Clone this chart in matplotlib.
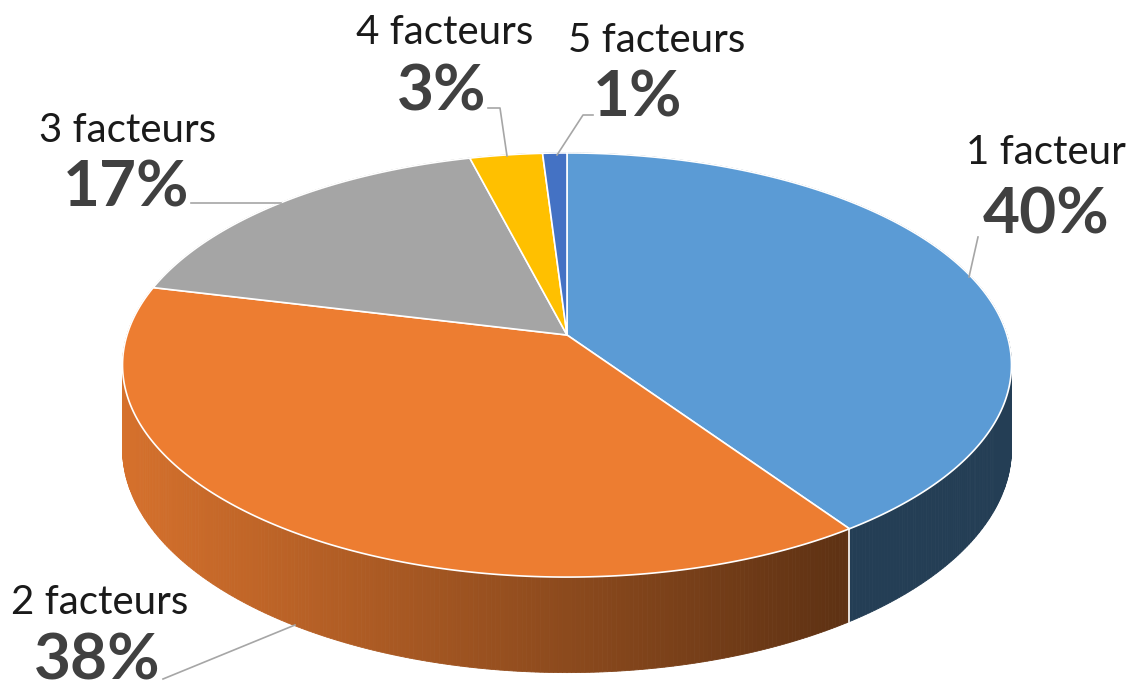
import numpy as np
import matplotlib
matplotlib.use("Agg")
import matplotlib.pyplot as plt
from matplotlib.patches import Polygon

# ---- data ----
categories = ["1 facteur", "2 facteurs", "3 facteurs", "4 facteurs", "5 facteurs"]
values = [40, 38, 17, 3, 1]
colors = ["#5B9BD5", "#ED7D31", "#A5A5A5", "#FFC000", "#4472C4"]

# ---- geometry (pixel space) ----
W, Hpx = 1131, 681
cx, cy = 567, 335
R, S, K, DEPTH = 440, 207.8, 0.1416, 82


def proj(X, Y, Z=0.0):
    w = 1 + K * Y
    return cx + R * X / w, cy - (S * Y + DEPTH * Z) / w


fig = plt.figure(figsize=(W / 100, Hpx / 100), dpi=100)
ax = fig.add_axes([0, 0, 1, 1])
ax.set_xlim(0, W)
ax.set_ylim(Hpx, 0)
ax.axis("off")

total = float(sum(values))
bounds = []
a = 90.0
for v in values:
    b = a - 360.0 * v / total
    bounds.append((a, b))
    a = b


def shade(hexcol, x):
    rgb = np.array(matplotlib.colors.to_rgb(hexcol))
    f = 0.9 - 0.5 * (x - 126) / (840 - 126)
    f = min(0.9, max(0.4, f))
    return tuple(rgb * f)


# side walls
quads = []
for (a0, a1), col in zip(bounds, colors):
    n = max(2, int(abs(a0 - a1) / 0.5))
    ts = np.radians(np.linspace(a0, a1, n + 1))
    for t0, t1 in zip(ts[:-1], ts[1:]):
        X0, Y0 = np.cos(t0), np.sin(t0)
        X1, Y1 = np.cos(t1), np.sin(t1)
        pts = [proj(X0, Y0, 0), proj(X1, Y1, 0), proj(X1, Y1, -1), proj(X0, Y0, -1)]
        xm = np.mean([p[0] for p in pts])
        quads.append(((Y0 + Y1) / 2, pts, shade(col, xm)))
quads.sort(key=lambda q: -q[0])
for _, pts, c in quads:
    ax.add_patch(Polygon(pts, closed=True, facecolor=c, edgecolor=c, lw=0.6))

# white seam between visible walls (1/2 boundary)
tb = np.radians(bounds[0][1])
p_top = proj(np.cos(tb), np.sin(tb), 0)
p_bot = proj(np.cos(tb), np.sin(tb), -1)
ax.plot([p_top[0], p_bot[0]], [p_top[1], p_bot[1]], color="white", lw=1.2)

# top faces
for (a0, a1), col in zip(bounds, colors):
    ts = np.radians(np.linspace(a0, a1, 200))
    pts = [proj(0, 0, 0)] + [proj(np.cos(t), np.sin(t), 0) for t in ts]
    ax.add_patch(Polygon(pts, closed=True, facecolor=col, edgecolor="white", lw=1.2,
                         joinstyle="round"))

# labels
name_font = dict(family="Lato", fontsize=29, color="#1a1a1a")
pct_font = dict(family="Lato", fontsize=46, fontweight="bold", color="#404040")
label_pos = [
    ((1046, 152), (1046, 215)),
    ((100, 602), (97, 661)),
    ((128, 130), (126, 188)),
    ((445, 33), (442, 92)),
    ((657, 40), (638, 98)),
]
for cat, v, ((nx, ny), (px, py)) in zip(categories, values, label_pos):
    ax.text(nx, ny, cat, ha="center", va="center", **name_font)
    ax.text(px, py, f"{round(100 * v / total)}%", ha="center", va="center", **pct_font)

# leader lines
leaders = [
    [(978, 237), (969, 277)],
    [(163, 679), (295, 625)],
    [(191, 203), (281, 203)],
    [(488, 108), (500, 108), (507, 156)],
    [(593, 115), (583, 115), (557, 155)],
]
for seg in leaders:
    xs, ys = zip(*seg)
    ax.plot(xs, ys, color="#A6A6A6", lw=1.2)

fig.savefig("out.png", dpi=100)
